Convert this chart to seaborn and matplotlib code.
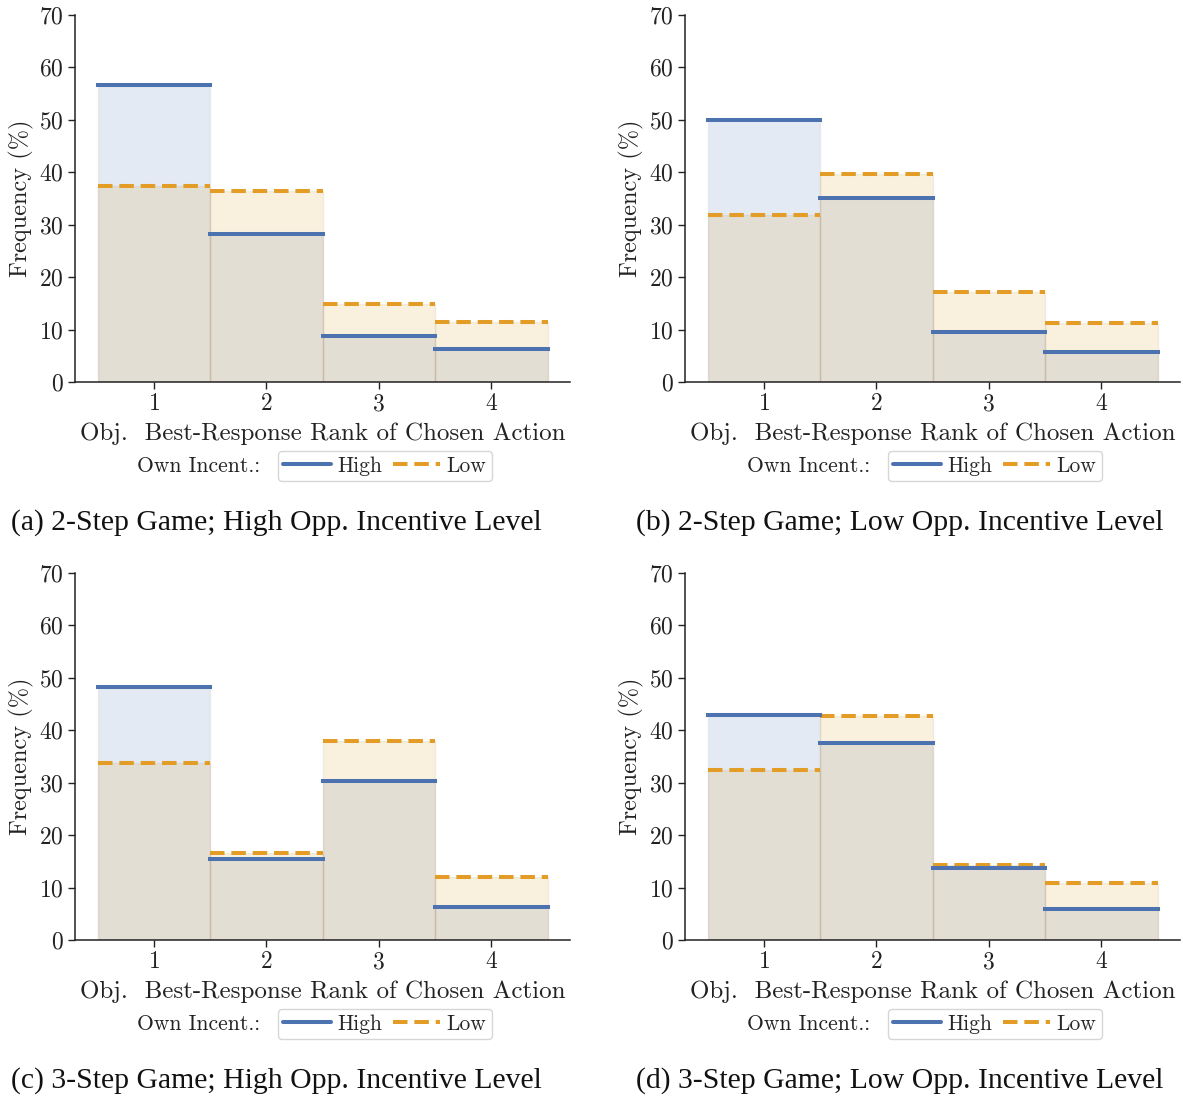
import numpy as np
import pandas as pd
import matplotlib
matplotlib.use("Agg")
import matplotlib.pyplot as plt
import seaborn as sns

# ranks of chosen action and frequencies (%)
ranks = [1, 2, 3, 4]
high_a = [56.6, 28.3, 8.8, 6.3]
low_a = [37.4, 36.5, 14.8, 11.5]
high_b = [49.9, 35.1, 9.5, 5.7]
low_b = [31.9, 39.7, 17.2, 11.3]
high_c = [48.3, 15.4, 30.3, 6.3]
low_c = [33.7, 16.5, 38.0, 12.1]
high_d = [43.0, 37.6, 13.7, 5.9]
low_d = [32.4, 42.7, 14.3, 10.9]

captions = ["(a) 2-Step Game; High Opp. Incentive Level",
            "(b) 2-Step Game; Low Opp. Incentive Level",
            "(c) 3-Step Game; High Opp. Incentive Level",
            "(d) 3-Step Game; Low Opp. Incentive Level"]
panels = [(high_a, low_a), (high_b, low_b), (high_c, low_c), (high_d, low_d)]

blue = "#4C72B0"
orange = "#E39D26"
palette = {"High": blue, "Low": orange}

sns.set_theme(style="ticks")
plt.rcParams["font.family"] = ["cmr10", "DejaVu Serif"]
plt.rcParams["axes.formatter.use_mathtext"] = True
plt.rcParams["axes.unicode_minus"] = False

W, H = 1183, 1102
fig = plt.figure(figsize=(W / 100, H / 100), dpi=100)

# axes boxes in pixels: left, top
boxes = [(75, 15), (685, 15), (75, 573), (685, 573)]
cap_pos = [(276, 523), (900, 523), (276, 1081), (900, 1081)]
aw, ah = 495, 367

for (hi, lo), (x0, y0), cap, (cx, cy) in zip(panels, boxes, captions, cap_pos):
    ax = fig.add_axes([x0 / W, 1 - (y0 + ah) / H, aw / W, ah / H])
    df = pd.DataFrame({
        "rank": ranks * 2,
        "freq": hi + lo,
        "incent": ["High"] * 4 + ["Low"] * 4,
    })
    # first hue level is drawn last, so Low ends up over High
    sns.histplot(data=df, x="rank", weights="freq", hue="incent",
                 hue_order=["Low", "High"], palette=palette, discrete=True,
                 multiple="layer", element="bars", alpha=0.15,
                 linewidth=1, edgecolor=(0.55, 0.45, 0.3, 0.09),
                 ax=ax, legend=False)
    r = np.array(ranks)
    ax.hlines(lo, r - 0.5, r + 0.5, color=orange, lw=2.9,
              linestyles=(0, (3.6, 1.7)), zorder=3)
    ax.hlines(hi, r - 0.5, r + 0.5, color=blue, lw=2.9,
              capstyle="projecting", zorder=4)

    ax.set_xlim(0.3, 4.7)
    ax.set_ylim(0, 70)
    ax.set_xticks(ranks)
    ax.set_yticks(range(0, 71, 10))
    ax.tick_params(labelsize=17, length=5, width=1, colors="#222222",
                   pad=3)
    ax.set_xlabel("Obj.  Best-Response Rank of Chosen Action",
                  fontsize=18, labelpad=5, color="#222222")
    ax.set_ylabel("Frequency (%)", fontsize=17.5, labelpad=4, color="#222222")
    for s in ["left", "bottom"]:
        ax.spines[s].set_color("#222222")
        ax.spines[s].set_linewidth(1.1)
    sns.despine(ax=ax)

    handles = [plt.Line2D([], [], color=blue, lw=2.9),
               plt.Line2D([], [], color=orange, lw=2.9,
                          linestyle=(0, (3.6, 1.7)))]
    ax.legend(handles, ["High", "Low"], loc="center left",
              bbox_to_anchor=(203 / aw, -84 / ah),
              ncol=2, fontsize=15.5, frameon=True, handlelength=2.2,
              handletextpad=0.3, columnspacing=0.5, borderpad=0.25,
              borderaxespad=0, fancybox=True, edgecolor="#cccccc")
    ax.text(185 / aw, -84 / ah, "Own Incent.:", transform=ax.transAxes,
            ha="right", va="center", fontsize=15.5, color="#222222")

    fig.text(cx / W, 1 - cy / H, cap, ha="center", va="center",
             fontsize=21.4, family=["Liberation Serif", "DejaVu Serif"],
             color="#111111")

fig.savefig("out.png", dpi=100)
